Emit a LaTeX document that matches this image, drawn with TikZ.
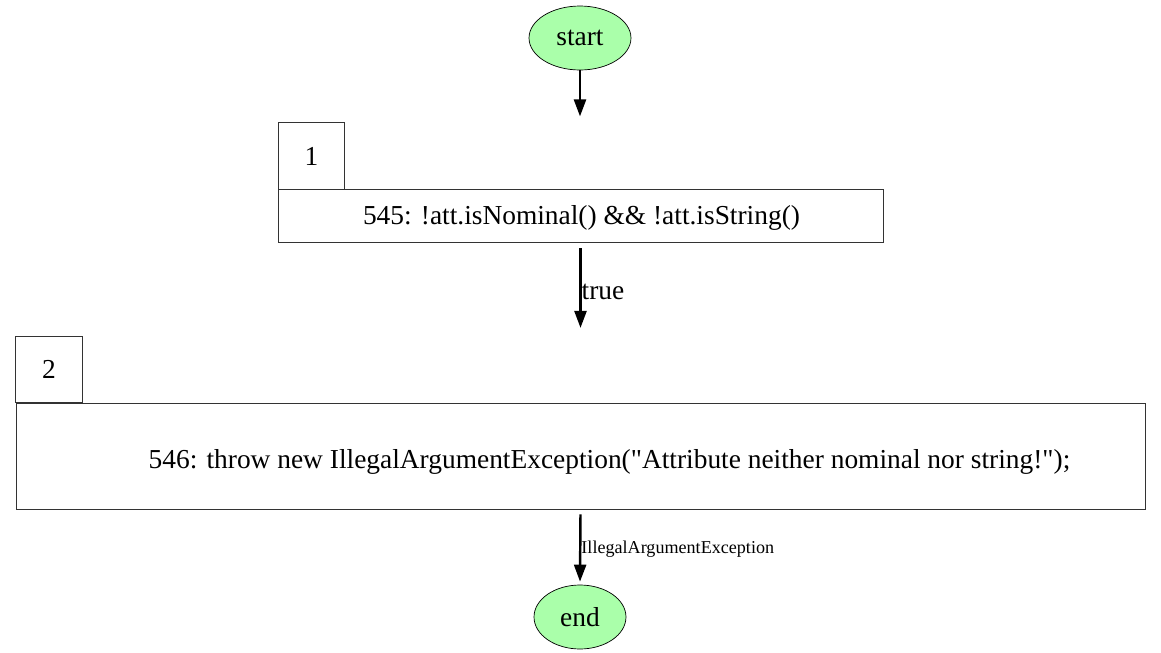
\documentclass[tikz,border=0pt]{standalone}
\usepackage{fontspec}
\setmainfont{Liberation Serif}
\usetikzlibrary{shapes.geometric,arrows.meta}
\definecolor{termgreen}{RGB}{170,255,170}

\begin{document}
\begin{tikzpicture}[x=0.02cm,y=-0.02cm,
    every node/.style={font=\fontsize{15.6}{18}\selectfont},
    term/.style={ellipse,draw,fill=termgreen,inner sep=0pt,minimum height=1.28cm},
    idbox/.style={draw=black!80,inner sep=0pt,minimum width=1.33cm,minimum height=1.33cm},
    stmtbox/.style={draw=black!80,inner sep=0pt},
    edge/.style={-{Triangle[length=0.34cm,width=0.24cm]},line width=1.4pt},
    edgelabel/.style={inner sep=0pt,anchor=west}]
    \useasboundingbox (0,0) rectangle (1161,653);
    % nodes
    \node[term,minimum width=2.04cm] (start) at (580,38) {start};
    \node[idbox] (lab1) at (311.5,156) {1};
    \node[stmtbox,minimum width=12.1cm,minimum height=1.06cm] (stmt1) at (580.5,215.5) {};
    \node (txt1) at (581.5,218) {545: !att.isNominal() \&\& !att.isString()};
    \node[idbox] (lab2) at (49,369.5) {2};
    \node[stmtbox,minimum width=22.58cm,minimum height=2.12cm] (stmt2) at (580.5,456) {};
    \node (txt2) at (609.5,462) {546: throw new IllegalArgumentException(\textquotedbl Attribute neither nominal nor string!\textquotedbl);};
    \node[term,minimum width=1.84cm] (end) at (580,617) {end};
    % edges
    \draw[edge] (start.south) -- ([yshift=0.12cm]start.south |- lab1.north);
    \draw[edge] ([yshift=-0.12cm]stmt1.south) -- ([yshift=0.16cm]stmt1.south |- lab2.north)
        node[edgelabel,pos=0.55] {true};
    \draw[edge] ([yshift=-0.1cm]stmt2.south) -- ([yshift=0.06cm]end.north)
        node[edgelabel,pos=0.52,font=\fontsize{10.3}{12}\selectfont] {IllegalArgumentException};
\end{tikzpicture}
\end{document}
